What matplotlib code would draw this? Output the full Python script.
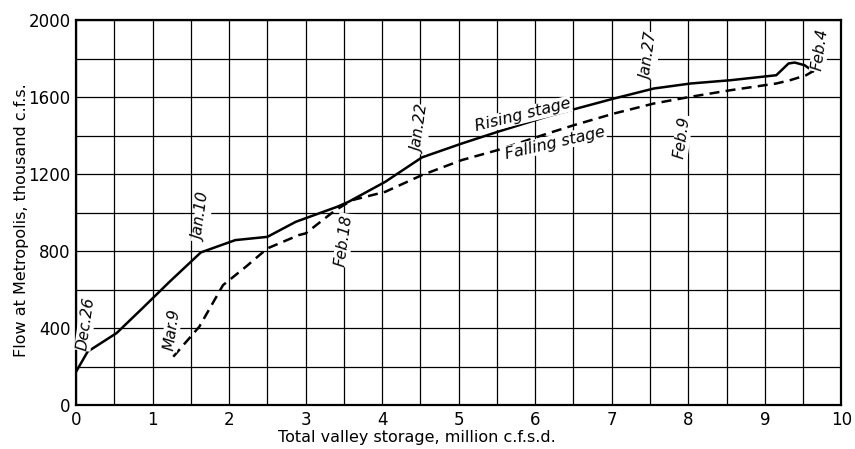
import matplotlib
matplotlib.use("Agg")
import matplotlib.pyplot as plt
from matplotlib.ticker import MultipleLocator

# storage (million c.f.s.d.) vs. flow (thousand c.f.s.)
rising_x = [0.0, 0.15, 0.53, 0.87, 1.22, 1.63, 2.08, 2.50, 2.87, 3.41, 3.56,
            4.04, 4.52, 5.04, 5.51, 6.16, 7.03, 7.55, 8.03, 8.55, 9.15,
            9.31, 9.39, 9.52, 9.63]
rising_y = [173, 277, 374, 504, 640, 793, 857, 874, 952, 1030, 1056,
            1160, 1287, 1359, 1420, 1500, 1593, 1645, 1671, 1688, 1714,
            1775, 1780, 1766, 1735]

falling_x = [1.27, 1.61, 1.92, 2.22, 2.50, 2.91, 3.00, 3.39, 3.61, 4.04,
             4.52, 5.04, 5.51, 6.16, 6.51, 7.03, 7.55, 8.03, 8.55, 9.15,
             9.33, 9.54, 9.63]
falling_y = [251, 407, 623, 719, 814, 883, 892, 1013, 1065, 1108,
             1195, 1273, 1325, 1411, 1455, 1515, 1567, 1602, 1636, 1671,
             1688, 1714, 1735]

date_labels = ["Dec.26", "Mar.9", "Jan.10", "Feb.18", "Jan.22",
               "Jan.27", "Feb.9", "Feb.4"]
date_x = [0.13, 1.25, 1.65, 3.50, 4.51, 7.50, 7.92, 9.72]
date_y = [425, 390, 975, 857, 1432, 1810, 1392, 1846]

fig = plt.figure(figsize=(8.55, 4.49), dpi=100)
ax = fig.add_axes([0.089, 0.098, 0.895, 0.857])

ax.set_xlim(0, 10)
ax.set_ylim(0, 2000)
ax.xaxis.set_major_locator(MultipleLocator(1))
ax.yaxis.set_major_locator(MultipleLocator(400))
ax.xaxis.set_minor_locator(MultipleLocator(0.5))
ax.yaxis.set_minor_locator(MultipleLocator(200))
ax.grid(which="both", color="black", linewidth=0.9)
ax.set_axisbelow(True)
ax.tick_params(which="both", length=0, labelsize=12, pad=4)

for side in ax.spines.values():
    side.set_linewidth(1.6)

ax.plot(rising_x, rising_y, color="black", linewidth=1.8, zorder=3)
ax.plot(falling_x, falling_y, color="black", linewidth=1.8,
        dashes=(4, 2.5), zorder=3)

for label, x, y in zip(date_labels, date_x, date_y):
    ax.text(x, y, label, rotation=82, style="italic", fontsize=11,
            ha="center", va="center", zorder=4,
            bbox=dict(facecolor="white", edgecolor="none", pad=0.5))

ax.text(5.84, 1506, "Rising stage", rotation=14, style="italic",
        fontsize=11.5, ha="center", va="center", zorder=4,
        bbox=dict(facecolor="white", edgecolor="none", pad=0.5))
ax.text(6.26, 1362, "Falling stage", rotation=13, style="italic",
        fontsize=11.5, ha="center", va="center", zorder=4,
        bbox=dict(facecolor="white", edgecolor="none", pad=0.5))

ax.set_xlabel("Total valley storage, million c.f.s.d.", fontsize=11.5,
              labelpad=0)
ax.xaxis.set_label_coords(0.445, -0.065)
ax.set_ylabel("Flow at Metropolis, thousand c.f.s.", fontsize=11.5)
ax.yaxis.set_label_coords(-0.062, 0.48)

fig.savefig("out.png", dpi=100)
